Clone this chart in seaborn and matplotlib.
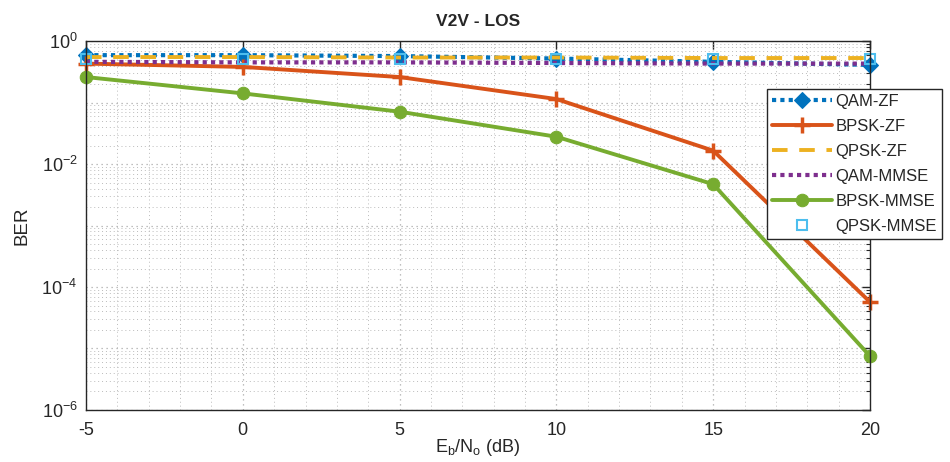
import numpy as np
import pandas as pd
import matplotlib
matplotlib.use("Agg")
import matplotlib.pyplot as plt
import matplotlib.ticker as mticker
import seaborn as sns

sns.set_style("white")
plt.rcParams["font.family"] = ["Liberation Sans", "DejaVu Sans"]
plt.rcParams["mathtext.fontset"] = "custom"
plt.rcParams["mathtext.rm"] = "Liberation Sans"
plt.rcParams["mathtext.it"] = "Liberation Sans:italic"
plt.rcParams["mathtext.bf"] = "Liberation Sans:bold"

# Eb/No values (dB)
ebno = [-5, 0, 5, 10, 15, 20]

# Bit error rates per modulation / equaliser
qam_zf = [0.59, 0.59, 0.57, 0.52, 0.46, 0.41]
bpsk_zf = [0.43, 0.38, 0.26, 0.114, 0.0165, 5.7e-5]
qpsk_zf = [0.55, 0.55, 0.54, 0.54, 0.53, 0.53]
qam_mmse = [0.46, 0.45, 0.45, 0.44, 0.43, 0.43]
bpsk_mmse = [0.26, 0.141, 0.071, 0.0278, 0.0047, 7.5e-6]
qpsk_mmse = [0.52, 0.52, 0.52, 0.52, 0.52, 0.52]

labels = ["QAM-ZF", "BPSK-ZF", "QPSK-ZF", "QAM-MMSE", "BPSK-MMSE", "QPSK-MMSE"]
series = [qam_zf, bpsk_zf, qpsk_zf, qam_mmse, bpsk_mmse, qpsk_mmse]

styles = {
    "QAM-ZF": dict(color="#0072BD", linestyle=(0, (1, 1)), marker="D", markersize=8.5,
                   mec="#0072BD", mfc="#0072BD", lw=3.0),
    "BPSK-ZF": dict(color="#D95319", linestyle="-", marker="+", markersize=11, mew=2.5,
                    mec="#D95319", lw=2.8),
    "QPSK-ZF": dict(color="#EDB120", linestyle=(0, (4, 3)), marker=None, lw=2.8),
    "QAM-MMSE": dict(color="#7E2F8E", linestyle=(0, (1, 1)), marker=None, lw=3.0),
    "BPSK-MMSE": dict(color="#77AC30", linestyle="-", marker="o", markersize=9,
                      mec="#77AC30", mfc="#77AC30", lw=2.8),
    "QPSK-MMSE": dict(color="#4DBEEE", linestyle="none", marker="s", markersize=7.5,
                      mfc="none", mec="#4DBEEE", mew=1.5, lw=0),
}

fig = plt.figure(figsize=(9.5, 4.62), dpi=100)
ax = fig.add_axes([0.0905, 0.1126, 0.8253, 0.7985])

for name, vals in zip(labels, series):
    df = pd.DataFrame({"ebno": ebno, "ber": vals})
    st = dict(styles[name])
    sns.lineplot(data=df, x="ebno", y="ber", ax=ax, label=name, clip_on=False, **st)

ax.set_yscale("log")
ax.set_xlim(-5, 20)
ax.set_ylim(1e-6, 1)

ax.xaxis.set_major_locator(mticker.MultipleLocator(5))
ax.xaxis.set_minor_locator(mticker.MultipleLocator(1))
ax.yaxis.set_major_locator(mticker.LogLocator(base=10, numticks=20))
ax.yaxis.set_minor_locator(mticker.LogLocator(base=10, subs=np.arange(2, 10), numticks=20))


def decade_label(v, pos):
    # label every second decade only
    e = int(round(np.log10(v)))
    return f"$\\mathregular{{10^{{{e}}}}}$" if e % 2 == 0 else ""


ax.yaxis.set_major_formatter(mticker.FuncFormatter(decade_label))
ax.yaxis.set_minor_formatter(mticker.NullFormatter())
ax.xaxis.set_major_formatter(mticker.FuncFormatter(lambda v, p: f"{int(v)}"))

ax.tick_params(which="both", direction="in", top=True, right=True, colors="#262626",
               labelsize=13, labelcolor="#262626")
ax.tick_params(which="major", length=6, width=1.0)
ax.tick_params(which="minor", length=3, width=0.8)
ax.tick_params(axis="x", which="minor", length=0)
ax.tick_params(axis="x", which="major", pad=9)
ax.tick_params(axis="y", which="major", pad=6)

ax.grid(True, which="major", color="#aaaaaa", linestyle=(0, (1, 3)), lw=0.9)
ax.grid(True, which="minor", color="#bbbbbb", linestyle=(0, (1, 3)), lw=0.7)

for sp in ax.spines.values():
    sp.set_color("#262626")
    sp.set_linewidth(1.0)

ax.set_title("V2V - LOS", fontsize=12.5, fontweight="bold", pad=11)
ax.set_xlabel(r"E$_\mathregular{b}$/N$_\mathregular{o}$ (dB)", fontsize=13, color="#262626", labelpad=-2)
ax.set_ylabel("BER", fontsize=13.5, color="#262626", labelpad=8)

leg = ax.legend(loc="upper left", bbox_to_anchor=(767 / 950, 1 - 89 / 462),
                bbox_transform=fig.transFigure, frameon=True, fancybox=False,
                framealpha=1, edgecolor="#262626", fontsize=12, handlelength=3.6,
                borderpad=0.3, labelspacing=0.6, handletextpad=0.2, borderaxespad=0)
leg.get_frame().set_linewidth(1.0)

fig.savefig("out.png", dpi=100)
